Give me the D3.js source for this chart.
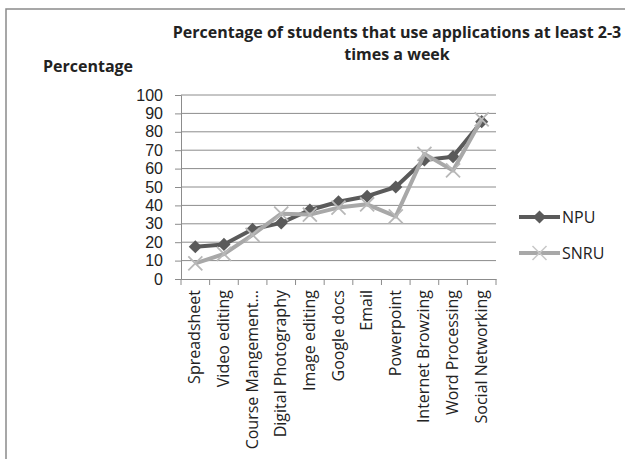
<!DOCTYPE html>
<meta charset="utf-8">
<head>
  <title>Percentage of students</title>
  <script src="https://cdn.jsdelivr.net/npm/d3@7"></script>
  <style>
    body { margin: 0; background: #fff; }
    text { font-family: "Open Sans", sans-serif; fill: #222; }
  </style>
</head>
<body>
  <div id="chart"></div>
  <script>
    // data
    var categories = ["Spreadsheet", "Video editing", "Course Mangement…", "Digital Photography",
      "Image editing", "Google docs", "Email", "Powerpoint", "Internet Browzing",
      "Word Processing", "Social Networking"];
    var npu = [17.5, 18.8, 27, 30.5, 37.5, 42, 45, 50, 64.7, 66.5, 85.5];
    var snru = [8.5, 13.6, 24, 35.5, 35, 38.8, 40.6, 34, 68, 59, 86.8];
    var yTicks = [0, 10, 20, 30, 40, 50, 60, 70, 80, 90, 100];

    var series = [
      { name: "NPU", values: npu, color: "#5a5a5a", marker: "diamond" },
      { name: "SNRU", values: snru, color: "#a8a8a8", marker: "cross" }
    ];

    var width = 625, height = 459;
    var svg = d3.select("#chart").append("svg")
      .attr("width", width)
      .attr("height", height);

    // outer frame
    svg.append("rect")
      .attr("x", 6).attr("y", 9)
      .attr("width", 640).attr("height", 470)
      .attr("fill", "none")
      .attr("stroke", "#8a8a8a")
      .attr("stroke-width", 1.5);

    var plot = { left: 181, right: 496, top: 95, bottom: 279 };

    var x = d3.scaleBand()
      .domain(categories)
      .range([plot.left, plot.right]);
    var y = d3.scaleLinear()
      .domain([0, 100])
      .range([plot.bottom, plot.top]);

    // gridlines
    svg.append("g")
      .selectAll("line")
      .data(yTicks.slice(1))
      .enter().append("line")
      .attr("x1", plot.left).attr("x2", plot.right)
      .attr("y1", d => y(d)).attr("y2", d => y(d))
      .attr("stroke", "#8c8c8c")
      .attr("stroke-width", 1);

    // y axis
    var yAxis = svg.append("g")
      .attr("transform", "translate(" + plot.left + ",0)")
      .call(d3.axisLeft(y).tickValues(yTicks).tickSize(6).tickPadding(12));
    yAxis.select(".domain").attr("stroke", "#8c8c8c");
    yAxis.selectAll(".tick line").attr("stroke", "#8c8c8c");
    yAxis.selectAll("text")
      .style("font-size", "16px")
      .style("font-family", "'Liberation Sans', sans-serif")
      .attr("fill", "#222");

    // x axis
    var xAxis = svg.append("g")
      .attr("transform", "translate(0," + plot.bottom + ")")
      .call(d3.axisBottom(x).tickSize(0).tickFormat(""));
    xAxis.select(".domain").attr("stroke", "#8c8c8c");
    xAxis.selectAll(".tick").remove();

    // tick marks between categories
    var bounds = categories.map(c => x(c)).concat([plot.right]);
    svg.append("g")
      .selectAll("line")
      .data(bounds)
      .enter().append("line")
      .attr("x1", d => d).attr("x2", d => d)
      .attr("y1", plot.bottom).attr("y2", plot.bottom + 6)
      .attr("stroke", "#8c8c8c");

    // category labels, rotated
    svg.append("g")
      .selectAll("text")
      .data(categories)
      .enter().append("text")
      .attr("transform", d => "translate(" + (x(d) + x.bandwidth() / 2 + 5) + "," + (plot.bottom + 11) + ") rotate(-90)")
      .attr("text-anchor", "end")
      .style("font-size", "16px")
      .text(d => d);

    // lines
    var line = d3.line()
      .x((d, i) => x(categories[i]) + x.bandwidth() / 2)
      .y(d => y(d));

    var diamond = d3.symbol().type(d3.symbolDiamond2).size(110);
    var cross = d3.symbol().type(d3.symbolTimes).size(130);

    series.forEach(function (s) {
      svg.append("path")
        .datum(s.values)
        .attr("fill", "none")
        .attr("stroke", s.color)
        .attr("stroke-width", 4)
        .attr("stroke-linejoin", "round")
        .attr("d", line);

      var pts = svg.append("g")
        .selectAll("path")
        .data(s.values)
        .enter().append("path")
        .attr("transform", (d, i) => "translate(" + (x(categories[i]) + x.bandwidth() / 2) + "," + y(d) + ")");
      if (s.marker == "diamond") {
        pts.attr("d", diamond).attr("fill", s.color);
      } else {
        pts.attr("d", cross).attr("fill", "none").attr("stroke", "#b8b8b8").attr("stroke-width", 1.8);
      }
    });

    // legend
    var legend = svg.append("g")
      .selectAll("g")
      .data(series)
      .enter().append("g")
      .attr("transform", (d, i) => "translate(519," + (217 + i * 36) + ")");
    legend.append("line")
      .attr("x1", 0).attr("x2", 41)
      .attr("stroke", d => d.color)
      .attr("stroke-width", 4);
    legend.append("path")
      .attr("transform", "translate(20.5,0)")
      .attr("d", d => d.marker == "diamond" ? diamond() : cross())
      .attr("fill", d => d.marker == "diamond" ? d.color : "none")
      .attr("stroke", d => d.marker == "diamond" ? "none" : "#c8c8c8")
      .attr("stroke-width", 1.5);
    legend.append("text")
      .attr("x", 43).attr("y", 6)
      .style("font-size", "16px")
      .attr("fill", "#444")
      .text(d => d.name);

    // titles
    var title = svg.append("text")
      .attr("x", 397).attr("y", 38)
      .attr("text-anchor", "middle")
      .style("font-size", "16px")
      .style("font-weight", "bold");
    title.append("tspan").attr("x", 397).text("Percentage of students that use applications at least 2-3");
    title.append("tspan").attr("x", 397).attr("dy", 22).text("times a week");

    svg.append("text")
      .attr("x", 43).attr("y", 72)
      .style("font-size", "16px")
      .style("font-weight", "bold")
      .text("Percentage");
  </script>
</body>
</html>
